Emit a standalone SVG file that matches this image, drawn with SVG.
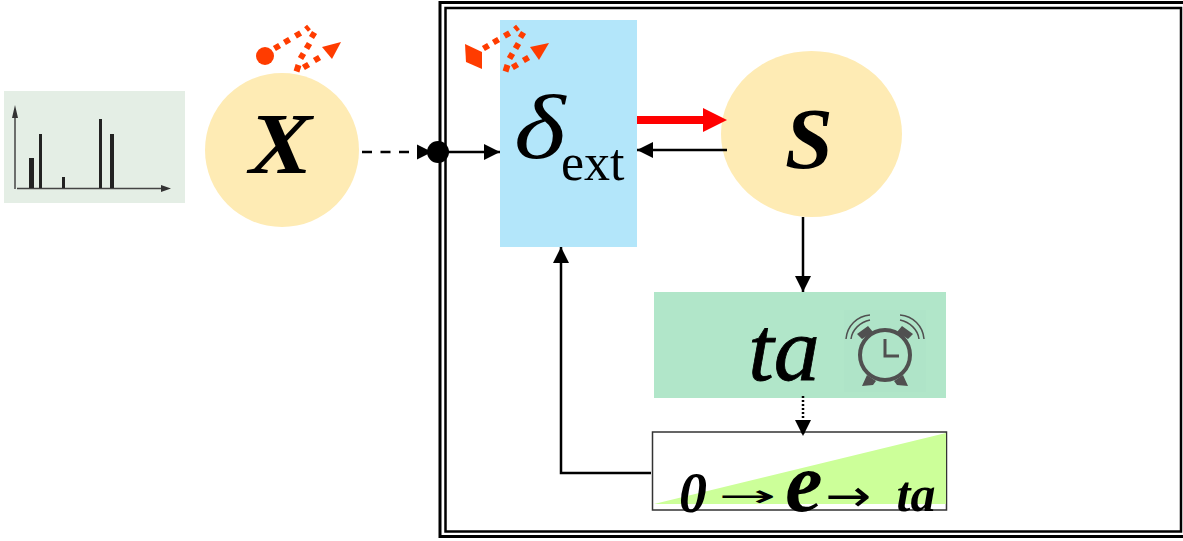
<svg xmlns="http://www.w3.org/2000/svg" width="1183" height="541" viewBox="0 0 1183 541">
<style>
.t{font-family:"Liberation Serif",serif;fill:#000}
.ar{font-family:"DejaVu Sans",sans-serif;fill:#000}
.bi{font-weight:bold;font-style:italic}
.c{fill:none;stroke:#000;stroke-width:2.500}
.red{fill:none;stroke:#ff3c00;stroke-width:6}
.rf{fill:#ff3c00}
.ic{fill:none;stroke:#505050}
</style>
<defs>
<marker id="a" markerUnits="userSpaceOnUse" markerWidth="16" markerHeight="16" refX="16" refY="8" orient="auto"><path d="M0 0L16 8L0 16Z" fill="#000"/></marker>
<path id="dots" class="red" d="M274.400 48.500L279.600 45.500M284.400 42.500L289.600 39.500M295.400 36L300.600 33M306 29.500L309 27M310.500 33.500L315.500 36.500M309.500 43.400L306.500 48.600M303.500 53.400L300.500 58.600M298.500 65L296.500 71.500M303.400 67.500L308.600 64.500M314.400 60.500L319.600 57.500"/>
</defs>
<g id="frame"><rect x="440" y="2.500" width="750" height="534" fill="none" stroke="#000" stroke-width="3"/><rect x="445.500" y="8" width="735.500" height="523.500" fill="none" stroke="#000" stroke-width="2.500"/></g>
<g id="plot">
<rect x="4" y="91" width="181" height="112" fill="#e4eee5"/>
<path d="M15 189V112M17 188.500H165" fill="none" stroke="#444" stroke-width="1.500"/>
<path d="M15 105L18 118H12ZM171 188.500L161 192V185Z" fill="#333"/>
<rect x="29" y="158" width="5" height="30" fill="#222"/><rect x="39" y="134" width="3" height="54" fill="#222"/><rect x="62" y="177" width="3" height="11" fill="#222"/><rect x="99" y="119" width="3" height="69" fill="#222"/><rect x="110" y="134" width="4" height="54" fill="#222"/>
</g>
<g id="X">
<circle cx="282" cy="150" r="77" fill="#feebb4"/>
<text class="t bi" transform="translate(280.500 173) scale(1.1 1)" font-size="86" text-anchor="middle">X</text>
<circle cx="265" cy="56" r="9" class="rf"/>
<use href="#dots"/>
<path class="rf" d="M341 42L322 47L332 59Z"/>
</g>
<g id="delta">
<rect x="500" y="20" width="137" height="227" fill="#b3e6fa"/>
<text class="t" transform="translate(514 158) scale(1.2 1)" font-size="92" font-style="italic">δ</text>
<text class="t" x="561" y="180" font-size="52">ext</text>
<path class="rf" d="M465 44L482 52L482 69L466 62Z"/>
<use href="#dots" transform="translate(209 0)"/>
<path class="rf" d="M549 43L530 47L539 60Z"/>
</g>
<g id="S">
<ellipse cx="811.500" cy="134" rx="90.500" ry="83" fill="#feebb4"/>
<text class="t bi" x="809" y="168" font-size="86" text-anchor="middle">S</text>
</g>
<g id="ta">
<rect x="654" y="292" width="292" height="106" fill="#b1e6c9"/>
<rect x="844" y="310" width="82" height="82" fill="#afe4c8"/>
<text class="t" x="784" y="380" font-size="92" font-style="italic" text-anchor="middle" stroke="#000" stroke-width=".8">ta</text>
<circle cx="885" cy="355" r="25" class="ic" stroke-width="4"/>
<path class="ic" stroke-width="3" d="M885 339V356H899"/>
<path d="M867 375L862 386L873 385L876 381ZM903 375L908 386L897 385L894 381ZM857 334L868 326L873 332L862 339ZM913 334L902 326L897 332L908 339Z" fill="#505050"/>
<path class="ic" stroke-width="1.500" d="M846 339C847 326 857 316 870 315M851 339C852 330 860 322 870 320M924 339C923 326 913 316 900 315M919 339C918 330 910 322 900 320"/>
</g>
<g id="elapsed">
<rect x="652.500" y="432" width="294" height="78" fill="#fff" stroke="#333" stroke-width="1.500"/>
<path d="M654 504L946 433V504Z" fill="#ccff99"/>
<text class="t bi" x="693" y="512" font-size="56" text-anchor="middle">0</text>
<text class="ar" transform="translate(718 506) scale(2.300 1)" font-size="30">→</text>
<text class="t bi" x="804" y="511" font-size="84" text-anchor="middle">e</text>
<text class="ar" transform="translate(825 511) scale(1.250 1)" font-size="44">→</text>
<text class="t bi" x="916" y="511" font-size="50" text-anchor="middle">ta</text>
</g>
<g id="connectors">
<circle cx="438" cy="152" r="11" fill="#000"/>
<path class="c" d="M362 152H410" stroke-dasharray="10 8.500"/>
<path d="M417 144.500L432 152L417 159.500Z" fill="#000"/>
<path class="c" d="M438 152H500" marker-end="url(#a)"/>
<path class="c" d="M727 150H637" marker-end="url(#a)"/>
<path d="M637 116H703V108L727 120L703 132V124H637Z" fill="#f00"/>
<path class="c" d="M803 217V292" marker-end="url(#a)"/>
<path class="c" d="M803 396V436" stroke-dasharray="2 2" marker-end="url(#a)"/>
<path class="c" d="M651 473H561V247" marker-end="url(#a)"/>
</g>
</svg>
